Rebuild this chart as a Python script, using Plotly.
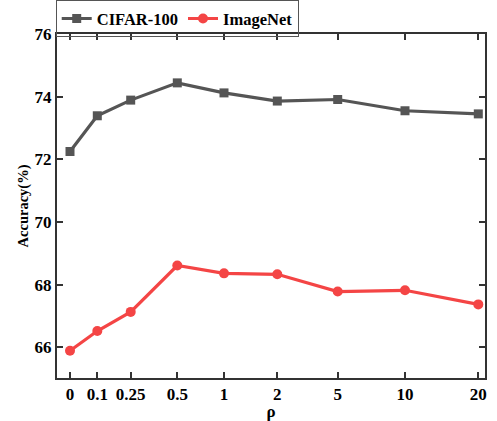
import plotly.graph_objects as go

rho_labels = ["0", "0.1", "0.25", "0.5", "1", "2", "5", "10", "20"]
x_pos = [0, 27.3, 60.7, 107.3, 154, 207.3, 267.7, 335, 408.3]
cifar100 = [72.25, 73.39, 73.89, 74.44, 74.12, 73.86, 73.91, 73.55, 73.45]
imagenet = [65.89, 66.52, 67.13, 68.61, 68.36, 68.33, 67.78, 67.82, 67.37]
y_ticks = [66, 68, 70, 72, 74, 76]

font_fam = "Liberation Serif"

fig = go.Figure()
fig.add_trace(go.Scatter(x=x_pos, y=cifar100, name="CIFAR-100", mode="lines+markers",
                         line=dict(color="#555555", width=3.2),
                         marker=dict(symbol="square", size=9, color="#555555")))
fig.add_trace(go.Scatter(x=x_pos, y=imagenet, name="ImageNet", mode="lines+markers",
                         line=dict(color="#F44545", width=3.2),
                         marker=dict(symbol="circle", size=10, color="#F44545")))

axis_common = dict(showline=True, linecolor="#333333", linewidth=2, mirror="ticks",
                   ticks="inside", ticklen=6, tickwidth=1.5, tickcolor="#333333",
                   showgrid=False, zeroline=False, automargin=False,
                   tickfont=dict(family=font_fam, size=17, color="black", weight="bold"))

fig.update_layout(
    width=497, height=421,
    margin=dict(l=57, r=12, t=34, b=43, autoexpand=False),
    plot_bgcolor="white", paper_bgcolor="white",
    showlegend=True,
    legend=dict(orientation="h", x=-0.003, y=1.098, xanchor="left", yanchor="top",
                bordercolor="#555555", borderwidth=1, bgcolor="rgba(0,0,0,0)",
                font=dict(family=font_fam, size=16.5, color="black", weight="bold"),
                itemwidth=30, tracegroupgap=0),
    xaxis=dict(axis_common, range=[-13, 415], tickvals=x_pos, ticktext=rho_labels,
               title=dict(text="ρ", standoff=2,
                          font=dict(family=font_fam, size=17, color="black", weight="bold"))),
    yaxis=dict(axis_common, range=[65.02, 76], tickvals=y_ticks,
               title=dict(text="Accuracy(%)", standoff=3,
                          font=dict(family=font_fam, size=14.5, color="black", weight="bold"))),
)

fig.write_html("out.html")
